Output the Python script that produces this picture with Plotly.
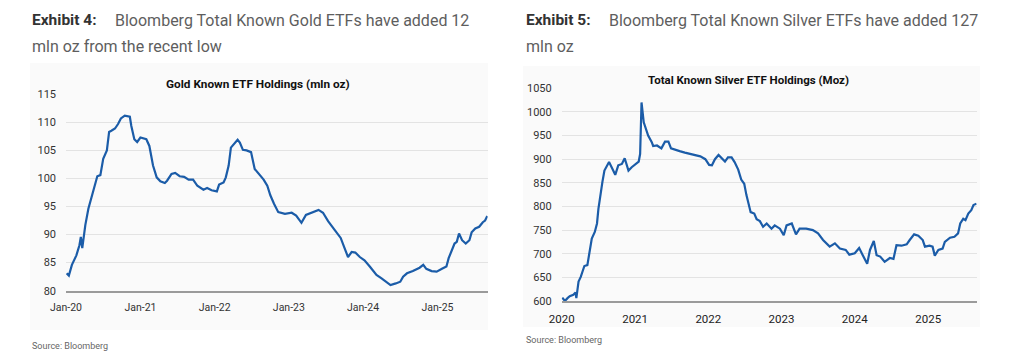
import plotly.graph_objects as go

# ---------------- Data ----------------
gold_dates = [
    "2020-01-04", "2020-01-15", "2020-01-30", "2020-02-21", "2020-03-07", "2020-03-14", "2020-03-21",
    "2020-04-05", "2020-04-20", "2020-05-08", "2020-05-23", "2020-06-03", "2020-06-18", "2020-07-02",
    "2020-07-20", "2020-07-31", "2020-08-11", "2020-08-29", "2020-09-13", "2020-09-27", "2020-10-16",
    "2020-11-10", "2020-11-17", "2020-12-02", "2020-12-16", "2021-01-01", "2021-01-30", "2021-02-14",
    "2021-03-04", "2021-03-22", "2021-04-09", "2021-05-01", "2021-05-12", "2021-06-03", "2021-06-21",
    "2021-07-13", "2021-08-04", "2021-08-26", "2021-09-17", "2021-10-08", "2021-11-07", "2021-11-25",
    "2021-12-17", "2022-01-12", "2022-01-23", "2022-02-14", "2022-02-25", "2022-03-11", "2022-03-22",
    "2022-04-06", "2022-04-24", "2022-05-05", "2022-05-20", "2022-06-07", "2022-06-29", "2022-07-17",
    "2022-08-08", "2022-08-30", "2022-09-17", "2022-10-02", "2022-10-20", "2022-11-10", "2022-12-13",
    "2023-01-15", "2023-02-06", "2023-03-04", "2023-03-26", "2023-04-20", "2023-05-27", "2023-06-18",
    "2023-07-13", "2023-08-15", "2023-09-13", "2023-10-03", "2023-10-19", "2023-11-06", "2023-11-24",
    "2023-12-16", "2024-01-08", "2024-02-03", "2024-03-07", "2024-04-01", "2024-04-27", "2024-05-15",
    "2024-06-10", "2024-07-02", "2024-07-16", "2024-08-04", "2024-09-02", "2024-10-05", "2024-10-23",
    "2024-11-07", "2024-12-03", "2024-12-28", "2025-01-23", "2025-02-14", "2025-02-25", "2025-03-12",
    "2025-03-26", "2025-04-06", "2025-04-17", "2025-05-02", "2025-05-20", "2025-06-07", "2025-06-18",
    "2025-07-06", "2025-07-25", "2025-08-12", "2025-08-23", "2025-09-03",
]
gold_values = [
    83.1, 82.7, 84.6, 86.3, 88.1, 89.6, 87.6,
    91.7, 94.6, 97.0, 98.7, 100.4, 100.6, 103.5,
    105.0, 108.3, 108.5, 108.9, 109.7, 110.7, 111.2,
    111.0, 109.4, 107.0, 106.5, 107.3, 107.0, 105.8,
    102.3, 100.2, 99.5, 99.2, 99.6, 100.8, 101.0,
    100.4, 100.3, 99.8, 99.8, 98.7, 98.0, 98.3,
    97.9, 97.7, 98.9, 99.3, 100.2, 102.3, 105.5,
    106.1, 106.9, 106.4, 105.1, 105.0, 104.7, 101.7,
    100.8, 99.8, 98.7, 97.0, 95.5, 94.0, 93.7,
    93.9, 93.4, 92.1, 93.5, 93.9, 94.4, 93.9,
    92.4, 90.8, 89.4, 87.5, 86.0, 86.9, 86.8,
    86.0, 85.4, 84.3, 82.8, 82.2, 81.5, 81.0,
    81.3, 81.6, 82.5, 83.1, 83.5, 84.1, 84.6,
    83.9, 83.5, 83.4, 83.9, 84.3, 85.8, 87.1,
    88.4, 88.7, 90.2, 89.0, 88.4, 89.0, 90.4,
    91.1, 91.4, 92.2, 92.5, 93.3,
]

silver_dates = [
    "2020-01-04", "2020-01-17", "2020-01-30", "2020-02-10", "2020-02-28", "2020-03-10", "2020-03-14",
    "2020-03-25", "2020-04-05", "2020-04-23", "2020-05-08", "2020-05-23", "2020-05-30", "2020-06-14",
    "2020-06-25", "2020-07-02", "2020-07-10", "2020-07-22", "2020-08-01", "2020-08-11", "2020-08-24",
    "2020-09-06", "2020-09-24", "2020-10-09", "2020-10-27", "2020-11-10", "2020-11-29", "2020-12-15",
    "2021-01-01", "2021-01-19", "2021-01-26", "2021-01-29", "2021-02-02", "2021-02-13", "2021-02-24",
    "2021-03-07", "2021-03-25", "2021-04-01", "2021-04-20", "2021-05-12", "2021-05-30", "2021-06-16",
    "2021-06-29", "2021-07-18", "2021-08-11", "2021-09-06", "2021-10-05", "2021-10-27", "2021-11-22",
    "2021-12-17", "2022-01-05", "2022-01-19", "2022-02-03", "2022-02-21", "2022-03-07", "2022-03-25",
    "2022-04-09", "2022-04-27", "2022-05-12", "2022-05-30", "2022-06-14", "2022-06-29", "2022-07-10",
    "2022-07-24", "2022-07-31", "2022-08-18", "2022-08-30", "2022-09-15", "2022-10-01", "2022-10-19",
    "2022-11-12", "2022-11-28", "2022-12-24", "2023-01-12", "2023-01-26", "2023-02-21", "2023-03-14",
    "2023-04-01", "2023-05-04", "2023-06-06", "2023-07-02", "2023-07-27", "2023-08-29", "2023-09-24",
    "2023-10-19", "2023-11-17", "2023-12-05", "2024-01-01", "2024-01-23", "2024-02-10", "2024-03-03",
    "2024-03-17", "2024-04-05", "2024-04-19", "2024-05-07", "2024-05-29", "2024-06-24", "2024-07-12",
    "2024-07-27", "2024-08-21", "2024-09-16", "2024-10-01", "2024-10-23", "2024-11-13", "2024-12-05",
    "2024-12-16", "2025-01-08", "2025-01-23", "2025-02-03", "2025-02-21", "2025-03-14", "2025-03-25",
    "2025-04-20", "2025-05-12", "2025-05-30", "2025-06-10", "2025-06-25", "2025-07-06", "2025-07-20",
    "2025-08-04", "2025-08-15", "2025-08-30",
]
silver_values = [
    607, 600, 606, 610, 613, 618, 606,
    641, 651, 674, 676, 711, 732, 746,
    764, 795, 820, 852, 876, 883, 894,
    883, 867, 887, 890, 902, 876, 883,
    888, 895, 911, 964, 1020, 978, 964,
    950, 936, 928, 929, 923, 937, 937,
    923, 921, 917, 914, 911, 909, 906,
    900, 888, 887, 900, 909, 902, 895,
    904, 904, 894, 878, 857, 848, 824,
    799, 788, 785, 773, 769, 757, 764,
    753, 760, 753, 739, 760, 764, 741,
    753, 753, 750, 743, 729, 715, 722,
    711, 708, 698, 701, 712, 697, 679,
    708, 727, 697, 694, 683, 691, 689,
    718, 717, 720, 729, 741, 738, 729,
    715, 717, 715, 696, 708, 711, 725,
    734, 736, 743, 764, 774, 771, 785,
    792, 803, 806,
]

year_ticks = ["2020-01-01", "2021-01-01", "2022-01-01", "2023-01-01", "2024-01-01", "2025-01-01"]
gold_xlabels = ["Jan-20", "Jan-21", "Jan-22", "Jan-23", "Jan-24", "Jan-25"]
silver_xlabels = ["2020", "2021", "2022", "2023", "2024", "2025"]
gold_yticks = [80, 85, 90, 95, 100, 105, 110, 115]
silver_yticks = [600, 650, 700, 750, 800, 850, 900, 950, 1000, 1050]

# ---------------- Figure ----------------
# The page body has an 8px margin, so the figure is sized to the remaining
# viewport and all target pixel positions are shifted by that offset.
OFF = 8
W, H = 1024 - OFF, 357 - OFF
LINE = "#1b5ca8"
FONT = "Roboto"

def px_x(p):
    return (p - OFF) / W

def px_y(p):
    return 1 - (p - OFF) / H

fig = go.Figure()
fig.add_trace(go.Scatter(x=gold_dates, y=gold_values, mode="lines",
                         line=dict(color=LINE, width=2.2), xaxis="x", yaxis="y",
                         showlegend=False, hoverinfo="x+y"))
fig.add_trace(go.Scatter(x=silver_dates, y=silver_values, mode="lines",
                         line=dict(color=LINE, width=2.2), xaxis="x2", yaxis="y2",
                         showlegend=False, hoverinfo="x+y"))

tickfont = dict(family=FONT, size=11, color="#333333")

common_x = dict(type="date", showgrid=False, zeroline=False, showline=True,
                linecolor="#9a9a9a", linewidth=1.5, ticks="",
                ticklabelstandoff=6, fixedrange=True, automargin=False)
common_y = dict(showgrid=True, gridcolor="#e3e3e3", gridwidth=1, zeroline=False,
                showline=False, ticks="", tickfont=tickfont, ticklabelstandoff=9,
                fixedrange=True, automargin=False)

fig.update_layout(
    width=W, height=H,
    autosize=False,
    margin=dict(l=0, r=0, t=0, b=0, pad=0, autoexpand=False),
    paper_bgcolor="white",
    plot_bgcolor="rgba(0,0,0,0)",
    showlegend=False,
    xaxis=dict(common_x, domain=[px_x(66), px_x(487.7)], anchor="y",
               range=["2020-01-01", "2025-09-05"],
               tickfont=dict(family=FONT, size=10.5, color="#333333"),
               tickvals=year_ticks, ticktext=gold_xlabels),
    yaxis=dict(common_y, domain=[px_y(290.7), px_y(94.3)], anchor="x",
               range=[80, 115], tickvals=gold_yticks,
               ticktext=[str(v) for v in gold_yticks]),
    xaxis2=dict(common_x, domain=[px_x(561.7), px_x(976.7)], anchor="y2",
                range=["2020-01-01", "2025-08-31"],
                tickfont=dict(family=FONT, size=11.5, color="#222222"),
                tickvals=year_ticks, ticktext=silver_xlabels),
    yaxis2=dict(common_y, domain=[px_y(301), px_y(88.3)], anchor="x2",
                range=[600, 1050], tickvals=silver_yticks,
                ticktext=[str(v) for v in silver_yticks]),
)

# faint background panels
fig.add_shape(type="rect", xref="paper", yref="paper",
              x0=px_x(30), x1=px_x(488), y0=px_y(330), y1=px_y(63),
              fillcolor="#fafafa", line=dict(width=0), layer="below")
fig.add_shape(type="rect", xref="paper", yref="paper",
              x0=px_x(523), x1=px_x(980), y0=px_y(327), y1=px_y(66),
              fillcolor="#fafafa", line=dict(width=0), layer="below")

def text(x, y, s, size, color, bold=False, xanchor="left", family=FONT):
    fig.add_annotation(x=px_x(x), y=px_y(y), xref="paper", yref="paper",
                       text=f"<b>{s}</b>" if bold else s, showarrow=False,
                       xanchor=xanchor, yanchor="middle",
                       font=dict(family=family, size=size, color=color))

# headings
text(30, 20, "Exhibit 4:", 15.5, "#333333", bold=True)
text(113, 20, "Bloomberg Total Known Gold ETFs have added 12", 16, "#5e5e5e")
text(30, 46, "mln oz from the recent low", 16, "#5e5e5e")
text(524, 20, "Exhibit 5:", 15.5, "#333333", bold=True)
text(607, 20, "Bloomberg Total Known Silver ETFs have added 127", 16, "#5e5e5e")
text(524, 46, "mln oz", 16, "#5e5e5e")

# chart titles
text(258, 84, "Gold Known ETF Holdings (mln oz)", 11.8, "#111111", bold=True, xanchor="center")
text(748, 80, "Total Known Silver ETF Holdings (Moz)", 11.5, "#111111", bold=True, xanchor="center")

# sources
text(30, 346, "Source: Bloomberg", 9, "#666666")
text(524, 340, "Source: Bloomberg", 9, "#666666")

fig.write_html("out.html")
